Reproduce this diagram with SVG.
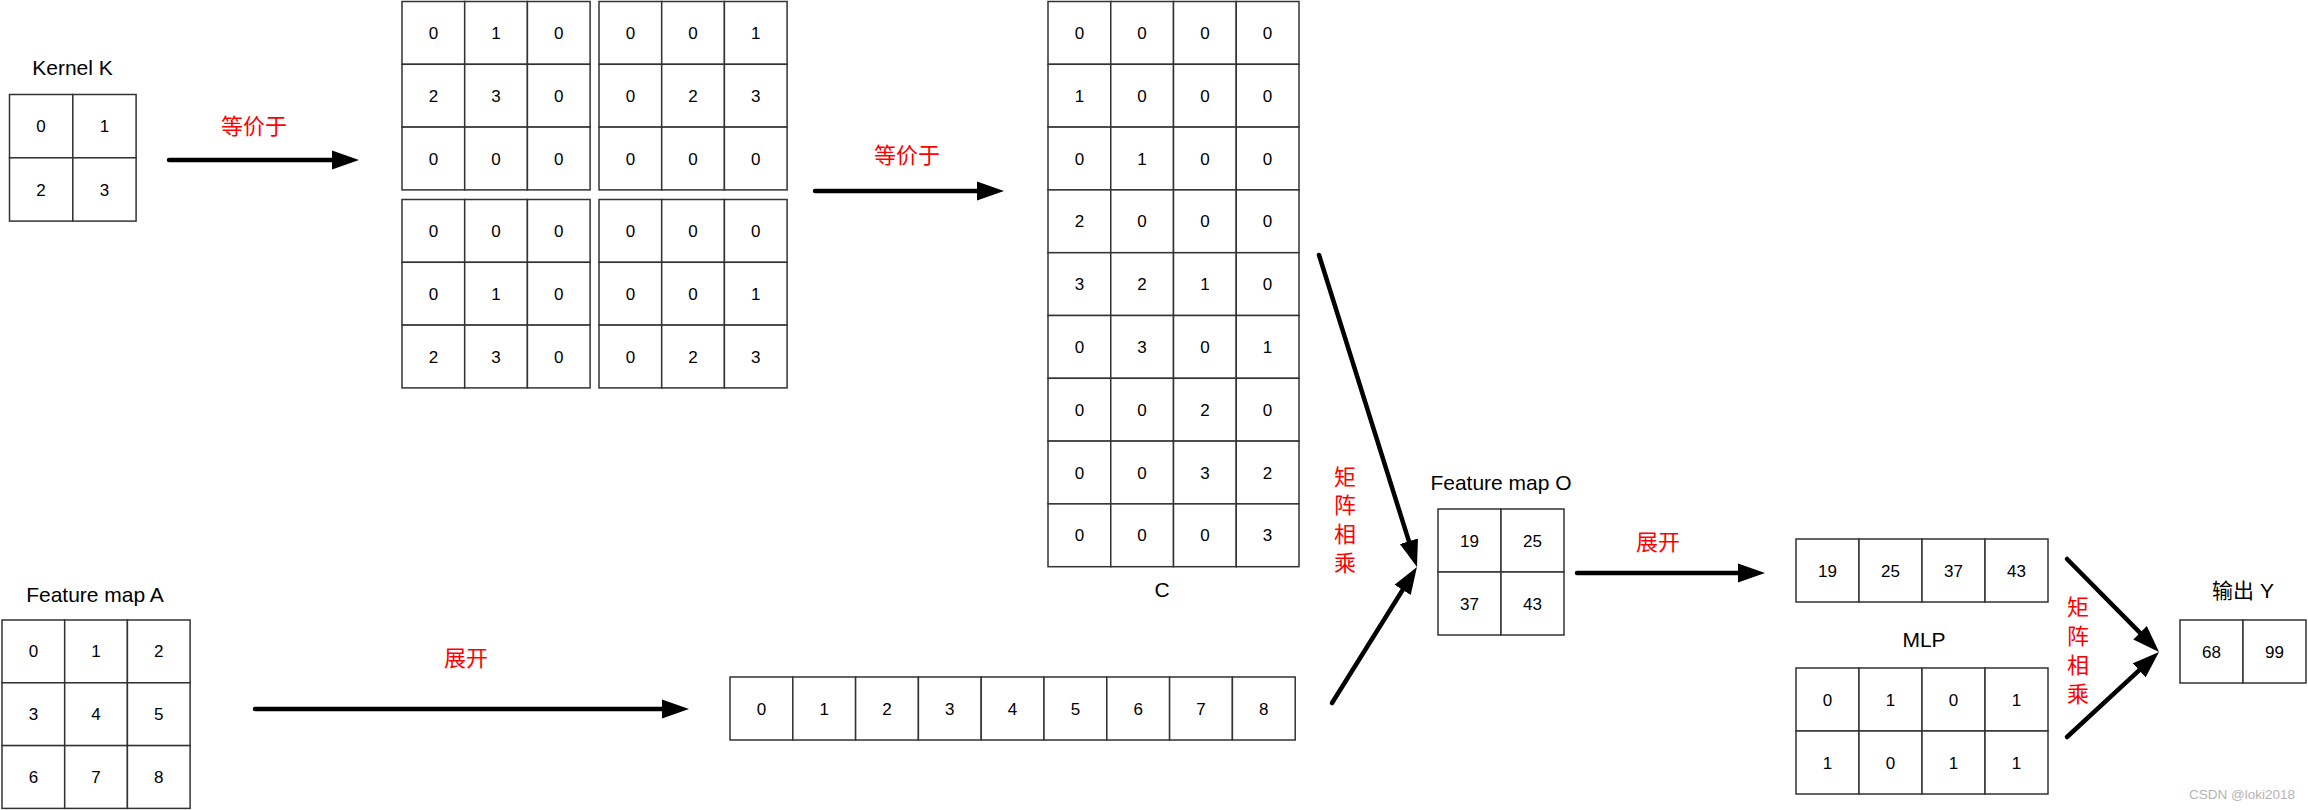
<svg xmlns="http://www.w3.org/2000/svg" width="2308" height="810" viewBox="0 0 2308 810">
<style>
.cell{fill:#fff;stroke:#333;stroke-width:1.5}
.n{font-family:"Liberation Sans",Arial,sans-serif;font-size:17px;fill:#000;text-anchor:middle}
.lbl{font-family:"Liberation Sans",Arial,"Noto Sans CJK SC",sans-serif;font-size:21px;fill:#000;text-anchor:middle}
.red{font-family:"Noto Sans CJK SC","Noto Sans CJK JP",sans-serif;font-size:22px;fill:#ff0000;text-anchor:middle}
.arrow{stroke:#000;stroke-width:4.5;stroke-linecap:round;fill:none;marker-end:url(#ah)}
.wm{font-family:"Liberation Sans",Arial,sans-serif;font-size:13.5px;fill:#b4b4b4}
</style>
<defs>
<marker id="ah" markerUnits="userSpaceOnUse" markerWidth="28" markerHeight="20" refX="12" refY="9.5" orient="auto" viewBox="0 0 28 19">
<path d="M0,0 L27,9.5 L0,19 z" fill="#000"/>
</marker>
</defs>
<rect width="2308" height="810" fill="#fff"/>

<g id="kernel">
<text class="lbl" x="72.5" y="75">Kernel K</text>
<g transform="translate(9.5,94.5)">
<rect class="cell" x="0" y="0" width="63.3" height="63.3"/><rect class="cell" x="63.3" y="0" width="63.3" height="63.3"/>
<rect class="cell" x="0" y="63.3" width="63.3" height="63.3"/><rect class="cell" x="63.3" y="63.3" width="63.3" height="63.3"/>
<text class="n" x="31.6" y="37.6">0</text><text class="n" x="95" y="37.6">1</text>
<text class="n" x="31.6" y="101">2</text><text class="n" x="95" y="101">3</text>
</g>
</g>

<g id="grid-tl" transform="translate(402,1.5)">
<rect class="cell" x="0" y="0" width="62.7" height="62.8"/><rect class="cell" x="62.7" y="0" width="62.7" height="62.8"/><rect class="cell" x="125.4" y="0" width="62.7" height="62.8"/>
<rect class="cell" x="0" y="62.8" width="62.7" height="62.8"/><rect class="cell" x="62.7" y="62.8" width="62.7" height="62.8"/><rect class="cell" x="125.4" y="62.8" width="62.7" height="62.8"/>
<rect class="cell" x="0" y="125.6" width="62.7" height="62.8"/><rect class="cell" x="62.7" y="125.6" width="62.7" height="62.8"/><rect class="cell" x="125.4" y="125.6" width="62.7" height="62.8"/>
<text class="n" x="31.4" y="37.4">0</text><text class="n" x="94" y="37.4">1</text><text class="n" x="156.7" y="37.4">0</text>
<text class="n" x="31.4" y="100.2">2</text><text class="n" x="94" y="100.2">3</text><text class="n" x="156.7" y="100.2">0</text>
<text class="n" x="31.4" y="163">0</text><text class="n" x="94" y="163">0</text><text class="n" x="156.7" y="163">0</text>
</g>

<g id="grid-tr" transform="translate(599,1.5)">
<rect class="cell" x="0" y="0" width="62.7" height="62.8"/><rect class="cell" x="62.7" y="0" width="62.7" height="62.8"/><rect class="cell" x="125.4" y="0" width="62.7" height="62.8"/>
<rect class="cell" x="0" y="62.8" width="62.7" height="62.8"/><rect class="cell" x="62.7" y="62.8" width="62.7" height="62.8"/><rect class="cell" x="125.4" y="62.8" width="62.7" height="62.8"/>
<rect class="cell" x="0" y="125.6" width="62.7" height="62.8"/><rect class="cell" x="62.7" y="125.6" width="62.7" height="62.8"/><rect class="cell" x="125.4" y="125.6" width="62.7" height="62.8"/>
<text class="n" x="31.4" y="37.4">0</text><text class="n" x="94" y="37.4">0</text><text class="n" x="156.7" y="37.4">1</text>
<text class="n" x="31.4" y="100.2">0</text><text class="n" x="94" y="100.2">2</text><text class="n" x="156.7" y="100.2">3</text>
<text class="n" x="31.4" y="163">0</text><text class="n" x="94" y="163">0</text><text class="n" x="156.7" y="163">0</text>
</g>

<g id="grid-bl" transform="translate(402,199.5)">
<rect class="cell" x="0" y="0" width="62.7" height="62.8"/><rect class="cell" x="62.7" y="0" width="62.7" height="62.8"/><rect class="cell" x="125.4" y="0" width="62.7" height="62.8"/>
<rect class="cell" x="0" y="62.8" width="62.7" height="62.8"/><rect class="cell" x="62.7" y="62.8" width="62.7" height="62.8"/><rect class="cell" x="125.4" y="62.8" width="62.7" height="62.8"/>
<rect class="cell" x="0" y="125.6" width="62.7" height="62.8"/><rect class="cell" x="62.7" y="125.6" width="62.7" height="62.8"/><rect class="cell" x="125.4" y="125.6" width="62.7" height="62.8"/>
<text class="n" x="31.4" y="37.4">0</text><text class="n" x="94" y="37.4">0</text><text class="n" x="156.7" y="37.4">0</text>
<text class="n" x="31.4" y="100.2">0</text><text class="n" x="94" y="100.2">1</text><text class="n" x="156.7" y="100.2">0</text>
<text class="n" x="31.4" y="163">2</text><text class="n" x="94" y="163">3</text><text class="n" x="156.7" y="163">0</text>
</g>

<g id="grid-br" transform="translate(599,199.5)">
<rect class="cell" x="0" y="0" width="62.7" height="62.8"/><rect class="cell" x="62.7" y="0" width="62.7" height="62.8"/><rect class="cell" x="125.4" y="0" width="62.7" height="62.8"/>
<rect class="cell" x="0" y="62.8" width="62.7" height="62.8"/><rect class="cell" x="62.7" y="62.8" width="62.7" height="62.8"/><rect class="cell" x="125.4" y="62.8" width="62.7" height="62.8"/>
<rect class="cell" x="0" y="125.6" width="62.7" height="62.8"/><rect class="cell" x="62.7" y="125.6" width="62.7" height="62.8"/><rect class="cell" x="125.4" y="125.6" width="62.7" height="62.8"/>
<text class="n" x="31.4" y="37.4">0</text><text class="n" x="94" y="37.4">0</text><text class="n" x="156.7" y="37.4">0</text>
<text class="n" x="31.4" y="100.2">0</text><text class="n" x="94" y="100.2">0</text><text class="n" x="156.7" y="100.2">1</text>
<text class="n" x="31.4" y="163">0</text><text class="n" x="94" y="163">2</text><text class="n" x="156.7" y="163">3</text>
</g>

<g id="matrix-c">
<g transform="translate(1048,1.5)">
<rect class="cell" x="0" y="0" width="62.75" height="62.8"/><rect class="cell" x="62.75" y="0" width="62.75" height="62.8"/><rect class="cell" x="125.5" y="0" width="62.75" height="62.8"/><rect class="cell" x="188.25" y="0" width="62.75" height="62.8"/>
<rect class="cell" x="0" y="62.8" width="62.75" height="62.8"/><rect class="cell" x="62.75" y="62.8" width="62.75" height="62.8"/><rect class="cell" x="125.5" y="62.8" width="62.75" height="62.8"/><rect class="cell" x="188.25" y="62.8" width="62.75" height="62.8"/>
<rect class="cell" x="0" y="125.6" width="62.75" height="62.8"/><rect class="cell" x="62.75" y="125.6" width="62.75" height="62.8"/><rect class="cell" x="125.5" y="125.6" width="62.75" height="62.8"/><rect class="cell" x="188.25" y="125.6" width="62.75" height="62.8"/>
<rect class="cell" x="0" y="188.4" width="62.75" height="62.8"/><rect class="cell" x="62.75" y="188.4" width="62.75" height="62.8"/><rect class="cell" x="125.5" y="188.4" width="62.75" height="62.8"/><rect class="cell" x="188.25" y="188.4" width="62.75" height="62.8"/>
<rect class="cell" x="0" y="251.2" width="62.75" height="62.8"/><rect class="cell" x="62.75" y="251.2" width="62.75" height="62.8"/><rect class="cell" x="125.5" y="251.2" width="62.75" height="62.8"/><rect class="cell" x="188.25" y="251.2" width="62.75" height="62.8"/>
<rect class="cell" x="0" y="314" width="62.75" height="62.8"/><rect class="cell" x="62.75" y="314" width="62.75" height="62.8"/><rect class="cell" x="125.5" y="314" width="62.75" height="62.8"/><rect class="cell" x="188.25" y="314" width="62.75" height="62.8"/>
<rect class="cell" x="0" y="376.8" width="62.75" height="62.8"/><rect class="cell" x="62.75" y="376.8" width="62.75" height="62.8"/><rect class="cell" x="125.5" y="376.8" width="62.75" height="62.8"/><rect class="cell" x="188.25" y="376.8" width="62.75" height="62.8"/>
<rect class="cell" x="0" y="439.6" width="62.75" height="62.8"/><rect class="cell" x="62.75" y="439.6" width="62.75" height="62.8"/><rect class="cell" x="125.5" y="439.6" width="62.75" height="62.8"/><rect class="cell" x="188.25" y="439.6" width="62.75" height="62.8"/>
<rect class="cell" x="0" y="502.4" width="62.75" height="62.8"/><rect class="cell" x="62.75" y="502.4" width="62.75" height="62.8"/><rect class="cell" x="125.5" y="502.4" width="62.75" height="62.8"/><rect class="cell" x="188.25" y="502.4" width="62.75" height="62.8"/>
<text class="n" x="31.4" y="37.4">0</text><text class="n" x="94.1" y="37.4">0</text><text class="n" x="156.9" y="37.4">0</text><text class="n" x="219.6" y="37.4">0</text>
<text class="n" x="31.4" y="100.2">1</text><text class="n" x="94.1" y="100.2">0</text><text class="n" x="156.9" y="100.2">0</text><text class="n" x="219.6" y="100.2">0</text>
<text class="n" x="31.4" y="163">0</text><text class="n" x="94.1" y="163">1</text><text class="n" x="156.9" y="163">0</text><text class="n" x="219.6" y="163">0</text>
<text class="n" x="31.4" y="225.8">2</text><text class="n" x="94.1" y="225.8">0</text><text class="n" x="156.9" y="225.8">0</text><text class="n" x="219.6" y="225.8">0</text>
<text class="n" x="31.4" y="288.6">3</text><text class="n" x="94.1" y="288.6">2</text><text class="n" x="156.9" y="288.6">1</text><text class="n" x="219.6" y="288.6">0</text>
<text class="n" x="31.4" y="351.4">0</text><text class="n" x="94.1" y="351.4">3</text><text class="n" x="156.9" y="351.4">0</text><text class="n" x="219.6" y="351.4">1</text>
<text class="n" x="31.4" y="414.2">0</text><text class="n" x="94.1" y="414.2">0</text><text class="n" x="156.9" y="414.2">2</text><text class="n" x="219.6" y="414.2">0</text>
<text class="n" x="31.4" y="477">0</text><text class="n" x="94.1" y="477">0</text><text class="n" x="156.9" y="477">3</text><text class="n" x="219.6" y="477">2</text>
<text class="n" x="31.4" y="539.8">0</text><text class="n" x="94.1" y="539.8">0</text><text class="n" x="156.9" y="539.8">0</text><text class="n" x="219.6" y="539.8">3</text>
</g>
<text class="lbl" x="1162" y="597">C</text>
</g>

<g id="feature-a">
<text class="lbl" x="95" y="602">Feature map A</text>
<g transform="translate(2,620)">
<rect class="cell" x="0" y="0" width="62.7" height="62.8"/><rect class="cell" x="62.7" y="0" width="62.7" height="62.8"/><rect class="cell" x="125.4" y="0" width="62.7" height="62.8"/>
<rect class="cell" x="0" y="62.8" width="62.7" height="62.8"/><rect class="cell" x="62.7" y="62.8" width="62.7" height="62.8"/><rect class="cell" x="125.4" y="62.8" width="62.7" height="62.8"/>
<rect class="cell" x="0" y="125.6" width="62.7" height="62.8"/><rect class="cell" x="62.7" y="125.6" width="62.7" height="62.8"/><rect class="cell" x="125.4" y="125.6" width="62.7" height="62.8"/>
<text class="n" x="31.4" y="37.4">0</text><text class="n" x="94" y="37.4">1</text><text class="n" x="156.7" y="37.4">2</text>
<text class="n" x="31.4" y="100.2">3</text><text class="n" x="94" y="100.2">4</text><text class="n" x="156.7" y="100.2">5</text>
<text class="n" x="31.4" y="163">6</text><text class="n" x="94" y="163">7</text><text class="n" x="156.7" y="163">8</text>
</g>
</g>

<g id="vector-a" transform="translate(730,677)">
<rect class="cell" x="0" y="0" width="62.8" height="63"/><rect class="cell" x="62.8" y="0" width="62.8" height="63"/><rect class="cell" x="125.6" y="0" width="62.8" height="63"/><rect class="cell" x="188.4" y="0" width="62.8" height="63"/><rect class="cell" x="251.2" y="0" width="62.8" height="63"/><rect class="cell" x="314" y="0" width="62.8" height="63"/><rect class="cell" x="376.8" y="0" width="62.8" height="63"/><rect class="cell" x="439.6" y="0" width="62.8" height="63"/><rect class="cell" x="502.4" y="0" width="62.8" height="63"/>
<text class="n" x="31.4" y="37.5">0</text><text class="n" x="94.2" y="37.5">1</text><text class="n" x="157" y="37.5">2</text><text class="n" x="219.8" y="37.5">3</text><text class="n" x="282.6" y="37.5">4</text><text class="n" x="345.4" y="37.5">5</text><text class="n" x="408.2" y="37.5">6</text><text class="n" x="471" y="37.5">7</text><text class="n" x="533.8" y="37.5">8</text>
</g>

<g id="feature-o">
<text class="lbl" x="1501" y="490">Feature map O</text>
<g transform="translate(1438,509)">
<rect class="cell" x="0" y="0" width="63" height="63"/><rect class="cell" x="63" y="0" width="63" height="63"/>
<rect class="cell" x="0" y="63" width="63" height="63"/><rect class="cell" x="63" y="63" width="63" height="63"/>
<text class="n" x="31.5" y="37.5">19</text><text class="n" x="94.5" y="37.5">25</text>
<text class="n" x="31.5" y="100.5">37</text><text class="n" x="94.5" y="100.5">43</text>
</g>
</g>

<g id="vector-o" transform="translate(1796,539)">
<rect class="cell" x="0" y="0" width="63" height="63"/><rect class="cell" x="63" y="0" width="63" height="63"/><rect class="cell" x="126" y="0" width="63" height="63"/><rect class="cell" x="189" y="0" width="63" height="63"/>
<text class="n" x="31.5" y="37.5">19</text><text class="n" x="94.5" y="37.5">25</text><text class="n" x="157.5" y="37.5">37</text><text class="n" x="220.5" y="37.5">43</text>
</g>

<g id="mlp">
<text class="lbl" x="1924" y="647">MLP</text>
<g transform="translate(1796,668)">
<rect class="cell" x="0" y="0" width="63" height="63"/><rect class="cell" x="63" y="0" width="63" height="63"/><rect class="cell" x="126" y="0" width="63" height="63"/><rect class="cell" x="189" y="0" width="63" height="63"/>
<rect class="cell" x="0" y="63" width="63" height="63"/><rect class="cell" x="63" y="63" width="63" height="63"/><rect class="cell" x="126" y="63" width="63" height="63"/><rect class="cell" x="189" y="63" width="63" height="63"/>
<text class="n" x="31.5" y="37.5">0</text><text class="n" x="94.5" y="37.5">1</text><text class="n" x="157.5" y="37.5">0</text><text class="n" x="220.5" y="37.5">1</text>
<text class="n" x="31.5" y="100.5">1</text><text class="n" x="94.5" y="100.5">0</text><text class="n" x="157.5" y="100.5">1</text><text class="n" x="220.5" y="100.5">1</text>
</g>
</g>

<g id="output-y">
<text class="lbl" x="2243" y="598">输出 Y</text>
<g transform="translate(2180,620)">
<rect class="cell" x="0" y="0" width="63" height="63"/><rect class="cell" x="63" y="0" width="63" height="63"/>
<text class="n" x="31.5" y="37.5">68</text><text class="n" x="94.5" y="37.5">99</text>
</g>
</g>

<g id="connectors">
<line class="arrow" x1="169" y1="160" x2="344" y2="160"/>
<line class="arrow" x1="815" y1="191" x2="989" y2="191"/>
<line class="arrow" x1="255" y1="709" x2="674" y2="709"/>
<line class="arrow" x1="1577" y1="573" x2="1750" y2="573"/>
<line class="arrow" x1="1319" y1="255" x2="1412.5" y2="552.7"/>
<line class="arrow" x1="1332" y1="703" x2="1409" y2="579.7"/>
<line class="arrow" x1="2067" y1="559" x2="2148.5" y2="641.3"/>
<line class="arrow" x1="2067" y1="737" x2="2148" y2="662.2"/>
<text class="red" x="254" y="134">等价于</text>
<text class="red" x="907" y="163">等价于</text>
<text class="red" x="466" y="666">展开</text>
<text class="red" x="1658" y="550">展开</text>
<text class="red" x="1345" y="485">矩</text>
<text class="red" x="1345" y="513">阵</text>
<text class="red" x="1345" y="542">相</text>
<text class="red" x="1345" y="571">乘</text>
<text class="red" x="2078" y="615">矩</text>
<text class="red" x="2078" y="644">阵</text>
<text class="red" x="2078" y="673">相</text>
<text class="red" x="2078" y="702">乘</text>
</g>

<text class="wm" x="2189" y="799">CSDN @loki2018</text>
</svg>
